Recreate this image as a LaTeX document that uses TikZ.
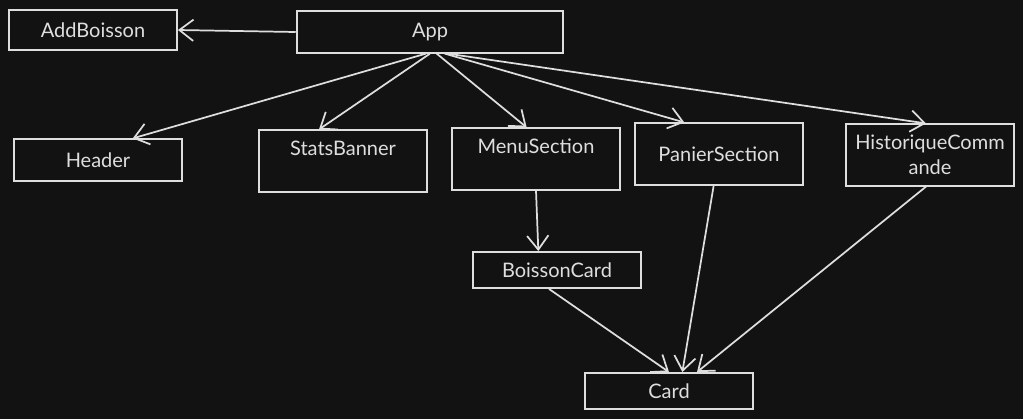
\documentclass[tikz,border=0pt]{standalone}
\usepackage{fontspec}
\setmainfont{Lato}
\usepackage{tikz}
\usetikzlibrary{arrows.meta}
\definecolor{bgdark}{HTML}{121212}
\definecolor{inkgray}{HTML}{DEDEDE}

\begin{document}
\begin{tikzpicture}[x=0.75pt,y=-0.75pt,
    comp/.style={draw=inkgray, line width=1.4pt, text=inkgray, inner sep=0pt,
                 minimum width=126pt, font=\fontsize{15}{19}\selectfont, align=center},
    toplabel/.style={label={[anchor=north, text=inkgray, font=\fontsize{15}{19}\selectfont, yshift=-5pt]north:#1}},
    link/.style={draw=inkgray, line width=1.3pt, -{Straight Barb[length=10.5pt,width=16pt,line width=1.3pt]}}]
                    \fill[bgdark] (0,0) rectangle (1023,419);
                    \useasboundingbox (0,0) rectangle (1023,419);

                    \node[comp, minimum height=30pt] (addboisson) at (93,30) {AddBoisson};
                    \node[comp, minimum width=200pt, minimum height=31pt] (app) at (430,32) {App};

                    \node[comp, minimum height=31pt] (header) at (98,160) {Header};
                    \node[comp, minimum height=46pt, toplabel=StatsBanner] (stats) at (343,161) {};
                    \node[comp, minimum height=46pt, toplabel=MenuSection] (menu) at (536,159) {};
                    \node[comp, minimum height=46pt] (panier) at (719,154) {PanierSection};
                    \node[comp, minimum height=46pt] (histo) at (930,155) {HistoriqueComm\\ande};

                    \node[comp, minimum height=27pt] (boissoncard) at (557,270) {BoissonCard};
                    \node[comp, minimum height=27pt] (card) at (669,391) {Card};

                    \draw[link] (app.west) -- (addboisson.east);
                    \draw[link] ([xshift=-3pt]app.south) -- ([xshift=26pt]header.north);
                    \draw[link] (app.south) -- ([xshift=-18pt]stats.north);
                    \draw[link] ([xshift=5pt]app.south) -- ([xshift=-7pt]menu.north);
                    \draw[link] ([xshift=11pt]app.south) -- ([xshift=-26pt]panier.north);
                    \draw[link] ([xshift=13pt]app.south) -- ([xshift=-3pt]histo.north);

                    \draw[link] (menu.south) -- ([xshift=-14pt]boissoncard.north);
                    \draw[link] ([xshift=-6pt]boissoncard.south) -- (card.north);
                    \draw[link] ([xshift=-4pt]panier.south) -- ([xshift=10pt]card.north);
                    \draw[link] ([xshift=-3pt]histo.south) -- ([xshift=21pt]card.north);
                \end{tikzpicture}
\end{document}
